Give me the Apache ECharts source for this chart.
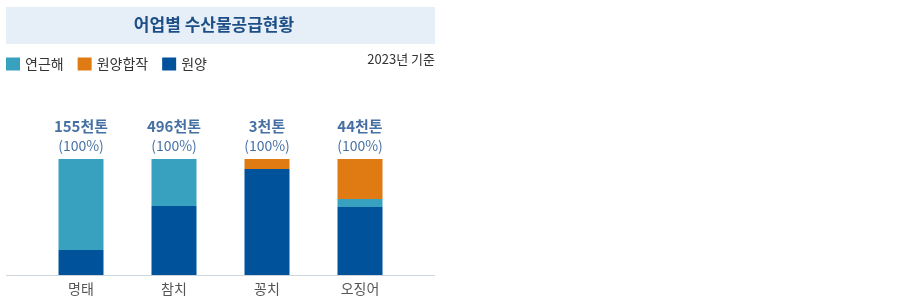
<!DOCTYPE html>
<html><head><meta charset="utf-8">
<script src="https://cdn.jsdelivr.net/npm/echarts@6/dist/echarts.min.js"></script>
<style>html,body{margin:0;padding:0;background:#fff}#c{width:900px;height:304px}</style>
</head><body><div id="c"></div>
<script>
const categories = ['명태', '참치', '꽁치', '오징어'];
const totals = ['155천톤', '496천톤', '3천톤', '44천톤'];
const totalPct = ['(100%)', '(100%)', '(100%)', '(100%)'];
const wonyang = [21.6, 59.5, 91.4, 58.6];
const yeongeunhae = [78.4, 40.5, 0, 6.9];
const hapjak = [0, 0, 8.6, 34.5];
const sums = categories.map((c, i) => wonyang[i] + yeongeunhae[i] + hapjak[i]);

const font = '"Noto Sans CJK KR", "Noto Sans", sans-serif';
const chart = echarts.init(document.getElementById('c'));
chart.setOption({
  animation: false,
  textStyle: { fontFamily: font },
  graphic: [
    { type: 'rect', shape: { x: 6, y: 7, width: 429, height: 37 }, style: { fill: '#e6eff7' } },
    { type: 'text', x: 214, y: 25, style: { text: '어업별 수산물공급현황', font: 'bold 17px ' + font, fill: '#1d4f86', textAlign: 'center', textVerticalAlign: 'middle' } },
    { type: 'text', x: 435, y: 59, style: { text: '2023년 기준', font: '13px ' + font, fill: '#333', textAlign: 'right', textVerticalAlign: 'middle' } },
    { type: 'line', shape: { x1: 6, y1: 275.5, x2: 435, y2: 275.5 }, style: { stroke: '#cfd6de', lineWidth: 1 } }
  ],
  legend: {
    left: 6, top: 57, padding: 0, itemWidth: 14, itemHeight: 13, itemGap: 14, icon: 'rect',
    textStyle: { fontSize: 14, color: '#333', fontFamily: font },
    data: ['연근해', '원양합작', '원양']
  },
  grid: { left: 34.5, width: 372, top: 159, height: 116 },
  xAxis: {
    type: 'category', data: categories,
    axisLine: { show: false }, axisTick: { show: false },
    axisLabel: { fontSize: 14, color: '#555', margin: 7, fontFamily: font }
  },
  yAxis: { type: 'value', min: 0, max: 100, show: false },
  series: [
    { name: '원양', type: 'bar', stack: 's', data: wonyang, barWidth: 45, itemStyle: { color: '#00529b' } },
    { name: '연근해', type: 'bar', stack: 's', data: yeongeunhae, itemStyle: { color: '#38a1bf' } },
    { name: '원양합작', type: 'bar', stack: 's', data: hapjak, itemStyle: { color: '#e07b14' } },
    {
      name: 'total', type: 'scatter', data: sums, symbolSize: 0, silent: true,
      label: {
        show: true, position: 'top', distance: 3,
        formatter: p => '{a|' + totals[p.dataIndex] + '}\n{b|' + totalPct[p.dataIndex] + '}',
        rich: {
          a: { fontSize: 15, fontWeight: 'bold', color: '#184c8c', lineHeight: 20, fontFamily: font },
          b: { fontSize: 14, color: '#184c8c', lineHeight: 20, fontFamily: font }
        }
      }
    }
  ]
});
</script></body></html>
